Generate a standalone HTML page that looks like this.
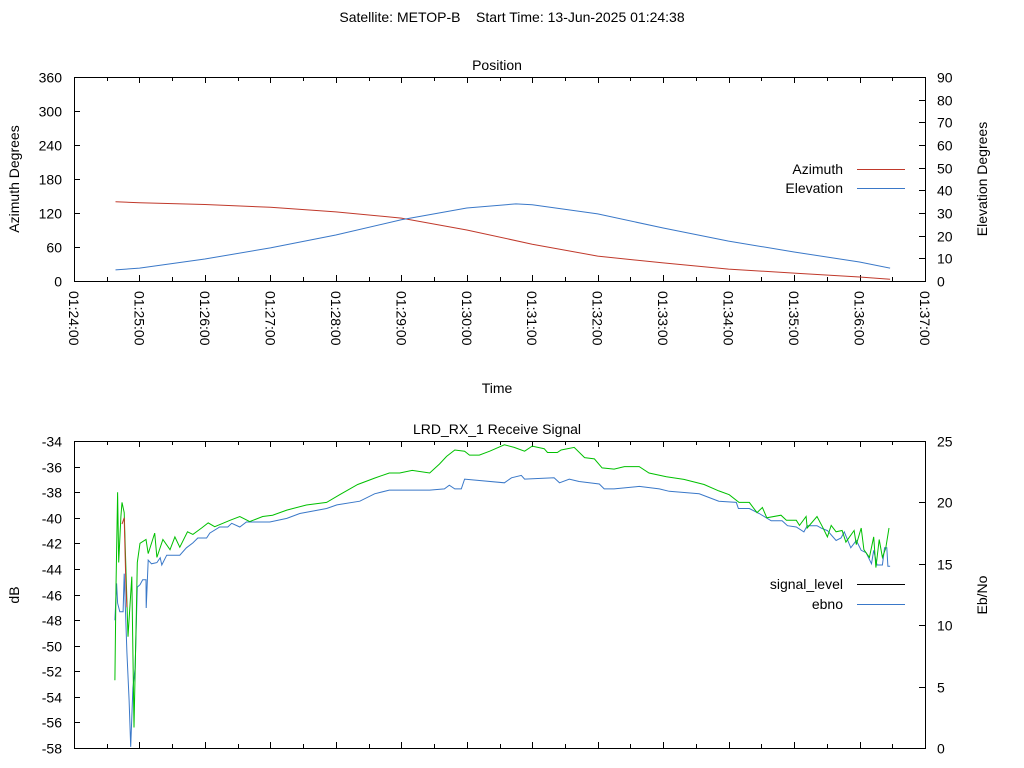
<!DOCTYPE html>
<html><head><meta charset="utf-8"><style>
html,body{margin:0;padding:0;background:#fff;width:1024px;height:768px;overflow:hidden}
svg{display:block;font-family:"Liberation Sans",Arial,sans-serif;font-size:14px}
</style></head><body>
<svg id="chart" width="1024" height="768" viewBox="0 0 1024 768" xmlns="http://www.w3.org/2000/svg">
<text x="512" y="22" text-anchor="middle">Satellite: METOP-B&#160;&#160;&#160;&#160;Start Time: 13-Jun-2025 01:24:38</text>
<g id="topPlot"></g>
<g id="botPlot"></g>
</svg>
<script>
// ---- Position data (time in seconds after 01:24:00) ----
const posTimes = [38,60,120,180,240,300,360,420,480,540,600,660,720,748];
const azimuthVals = [140,138,135,130,122,111,90,65,44,32,21,14,7,3];
const elevTimes = [38,60,120,180,240,300,360,405,420,480,540,600,660,720,748];
const elevationVals = [4.9,5.7,9.7,14.6,20.3,27,32.2,34,33.6,29.6,23.4,17.6,12.8,8.4,5.7];
const timeTickLabels = ["01:24:00","01:25:00","01:26:00","01:27:00","01:28:00","01:29:00","01:30:00","01:31:00","01:32:00","01:33:00","01:34:00","01:35:00","01:36:00","01:37:00"];
const azTicks = [0,60,120,180,240,300,360];
const elTicks = [0,10,20,30,40,50,60,70,80,90];
// ---- Signal data ----
const sigTimes = [37.5,38.5,40,41,43,44,46,49.5,53,55,57,58,60.5,66,68,74,76,81.5,88,92.5,97,104,109,117,123,129,143,152,161,173,182,195,213,231.5,243.5,260,275.5,289,298.5,310,326,335,341.5,349,358,362.5,371.5,381,394.5,403.5,413,420,431,434,443,446.5,458.5,468,477,484,495,504.5,518,527,543,559,577.5,591,600.5,609.5,619,626,631,635,648,653,662,665,671,672,681,686,690.5,694,698.5,704,707.5,715,717,721.5,724,729,733,735,738,741,744,747];
const signalVals = [-52.7,-45.4,-38.0,-43.5,-39.9,-38.8,-39.6,-49.3,-44.6,-56.4,-48.0,-43.5,-42.0,-41.7,-42.8,-41.2,-43.1,-41.7,-42.5,-41.5,-42.3,-41.1,-41.3,-40.8,-40.4,-40.7,-40.2,-39.9,-40.3,-39.9,-39.8,-39.4,-39.0,-38.8,-38.2,-37.4,-36.9,-36.5,-36.5,-36.3,-36.5,-35.8,-35.2,-34.7,-34.8,-35.1,-35.1,-34.8,-34.3,-34.5,-34.8,-34.4,-34.6,-34.9,-34.9,-34.7,-34.5,-35.3,-35.4,-36.1,-36.2,-36.0,-36.0,-36.5,-36.8,-37.0,-37.4,-37.9,-38.2,-38.8,-38.8,-39.6,-39.2,-40.0,-39.8,-40.2,-40.2,-40.6,-39.9,-40.8,-39.9,-40.7,-41.5,-40.6,-41.1,-41.0,-41.9,-41.0,-42.1,-40.8,-42.5,-43.1,-41.5,-43.9,-41.7,-43.1,-42.4,-40.8];
const redTimes = [44,46,47.5,48.5];
const redVals = [-40.5,-40.0,-45.0,-47.0];
const ebnoTimes = [37.5,39,40,42,45,46,48.5,50.5,52,54,56,58,60.5,63,66,66.2,68,71,76,79,80.5,85,97,103,109,113.5,121.5,124.5,133.5,141,144.5,152,158,179.5,195,207,231.5,241,262,275.5,289,298.5,326,339.5,344,349,355,358,394.5,401,410,413,440,445,454,463,481.5,486,495,518,536.5,545.5,573,582,591,607,609,619,628,639,649,654,662,669,672,681,685,690.5,698.5,703,706,712,717,721.5,726,731,733,736,741,743,745,746,748];
const ebnoVals = [10.4,13.4,11.8,11.1,11.1,14.2,7.8,3.9,0.1,4.9,6.5,13.1,13.3,13.7,13.7,11.4,15.3,15.0,15.1,15.5,14.9,15.7,15.7,16.3,16.7,17.1,17.1,17.5,18.0,18.0,18.3,18.0,18.4,18.4,18.7,19.1,19.5,19.8,20.1,20.7,21.0,21.0,21.0,21.1,21.4,21.1,21.1,21.9,21.6,22.0,22.2,21.9,22.0,21.6,21.9,21.7,21.5,21.1,21.1,21.3,21.1,20.9,20.7,20.4,20.1,20.0,19.5,19.5,19.1,18.5,18.5,18.1,18.0,17.6,18.1,18.1,17.9,17.7,16.9,17.1,17.6,16.3,16.9,16.1,15.9,15.0,16.1,14.9,14.9,16.3,16.3,14.8,14.8];
const dbTicks = [-34,-36,-38,-40,-42,-44,-46,-48,-50,-52,-54,-56,-58];
const ebTicks = [0,5,10,15,20,25];

const NS="http://www.w3.org/2000/svg";
function mk(parent,tag,attrs,text){const e=document.createElementNS(NS,tag);for(const k in attrs)e.setAttribute(k,attrs[k]);if(text!==undefined)e.textContent=text;parent.appendChild(e);return e;}
const L=74,R=925;
const sx=t=>L+t/780*(R-L);
const TT=77,TB=281;
const yAz=v=>TB-v/360*(TB-TT);
const yEl=v=>TB-v/90*(TB-TT);
const BT=441,BB=748;
const yDb=v=>BT+(-34-v)/24*(BB-BT);
const yEb=v=>BB-v/25*(BB-BT);

const topG=document.getElementById('topPlot');
const botG=document.getElementById('botPlot');

function frame(g,T,B,name){
  const r=mk(g,'rect',{x:L+0.5,y:T+0.5,width:R-L,height:B-T,fill:'none',stroke:'#000','stroke-width':1});
  
  
  for(let s=0;s<=780;s+=30){
    const x=Math.round(sx(s))+0.5, len=(s%60===0)?6:4;
    const t1=mk(g,'line',{x1:x,y1:B,x2:x,y2:B-len,stroke:'#000'});
    
    
    const t2=mk(g,'line',{x1:x,y1:T,x2:x,y2:T+len,stroke:'#000'});
    
    
  }
}
function yTicks(g,vals,fy,side){
  vals.forEach(v=>{
    const y=Math.round(fy(v))+0.5;
    const x0= side==='l'?L:R, dir= side==='l'?1:-1;
    const tk=mk(g,'line',{x1:x0,y1:y,x2:x0+dir*6,y2:y,stroke:'#000'});
    
    
    const tx=mk(g,'text',{x: side==='l'?L-12:R+12, y:y+5,'text-anchor': side==='l'?'end':'start'},String(v));
    
    
  });
}
function line(g,xs,ys,fx,fy,color,name){
  const pts=xs.map((t,i)=>fx(t).toFixed(1)+','+fy(ys[i]).toFixed(1)).join(' ');
  const p=mk(g,'polyline',{points:pts,fill:'none',stroke:color,'stroke-width':1});
  
  
}
function text(g,x,y,s,name,extra){
  const a=Object.assign({x:x,y:y},extra||{});
  const t=mk(g,'text',a,s);
  
  
  return t;
}

// ---- Top plot ----
frame(topG,TT,TB,'position-plot-frame');
yTicks(topG,azTicks,yAz,'l');
yTicks(topG,elTicks,yEl,'r');
timeTickLabels.forEach((lab,i)=>{
  const x=sx(i*60);
  text(topG,0,0,lab,'x-tick-label',{transform:'translate('+(x-5)+',291) rotate(90)'});
});
text(topG,497,70,'Position','position-title',{'text-anchor':'middle'});
text(topG,0,0,'Azimuth Degrees','azimuth-axis-title',{transform:'translate(19,179) rotate(-90)','text-anchor':'middle'});
text(topG,0,0,'Elevation Degrees','elevation-axis-title',{transform:'translate(987,179) rotate(-90)','text-anchor':'middle'});
text(topG,497,393,'Time','x-axis-title',{'text-anchor':'middle'});
line(topG,posTimes,azimuthVals,sx,yAz,'#c0392b','azimuth-line');
line(topG,elevTimes,elevationVals,sx,yEl,'#3a78c8','elevation-line');
text(topG,843,174,'Azimuth','legend-azimuth-label',{'text-anchor':'end'});
let lg=mk(topG,'line',{x1:857,y1:169.5,x2:905,y2:169.5,stroke:'#c0392b'});


text(topG,843,193,'Elevation','legend-elevation-label',{'text-anchor':'end'});
lg=mk(topG,'line',{x1:857,y1:188.5,x2:905,y2:188.5,stroke:'#3a78c8'});



// ---- Bottom plot ----
frame(botG,BT,BB,'signal-plot-frame');
yTicks(botG,dbTicks,yDb,'l');
yTicks(botG,ebTicks,yEb,'r');
text(botG,497,434,'LRD_RX_1 Receive Signal','signal-title',{'text-anchor':'middle'});
text(botG,0,0,'dB','db-axis-title',{transform:'translate(19,595) rotate(-90)','text-anchor':'middle'});
text(botG,0,0,'Eb/No','ebno-axis-title',{transform:'translate(987,595) rotate(-90)','text-anchor':'middle'});
line(botG,ebnoTimes,ebnoVals,sx,yEb,'#3a78c8','ebno-line');
line(botG,sigTimes,signalVals,sx,yDb,'#00c000','signal-level-line');
line(botG,redTimes,redVals,sx,yDb,'#c0392b','signal-red-segment');
text(botG,843,589,'signal_level','legend-signal-label',{'text-anchor':'end'});
lg=mk(botG,'line',{x1:857,y1:584.5,x2:905,y2:584.5,stroke:'#000'});


text(botG,843,609,'ebno','legend-ebno-label',{'text-anchor':'end'});
lg=mk(botG,'line',{x1:857,y1:604.5,x2:905,y2:604.5,stroke:'#3a78c8'});


</script>
</body></html>
